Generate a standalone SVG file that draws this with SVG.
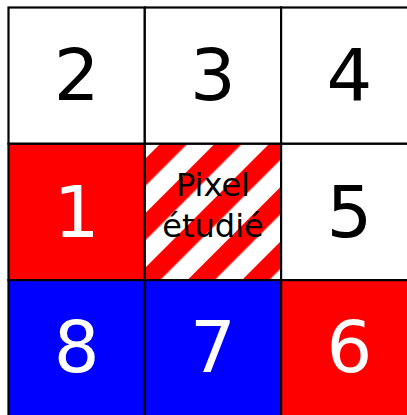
<svg xmlns="http://www.w3.org/2000/svg" width="407" height="415" viewBox="0 0 407 415">
<style>
.cell{stroke:#000;stroke-width:2.2}
.w{fill:#fff}
.r{fill:#ff0000}
.b{fill:#0000ff}
.num{font-family:"DejaVu Sans",Verdana,sans-serif;font-size:72px;text-anchor:middle}
.dk{fill:#000}
.lt{fill:#fff}
.lbl{font-family:"DejaVu Sans",Verdana,sans-serif;font-size:32px;text-anchor:middle;fill:#000}
</style>
<defs>
<pattern id="stripes" x="22.26" y="0" width="38.54" height="38.54" patternUnits="userSpaceOnUse" patternTransform="rotate(45)">
<rect width="38.54" height="38.54" fill="#fff"/>
<rect width="19.27" height="38.54" fill="#ff0000"/>
</pattern>
</defs>
<rect width="407" height="415" fill="#fff"/>
<g id="n2"><rect class="cell w" x="8.5" y="7.5" width="136.3" height="136.3"/><text class="num dk" x="76.6" y="100">2</text></g>
<g id="n3"><rect class="cell w" x="144.8" y="7.5" width="136.3" height="136.3"/><text class="num dk" x="213" y="100">3</text></g>
<g id="n4"><rect class="cell w" x="281.1" y="7.5" width="136.3" height="136.3"/><text class="num dk" x="349.3" y="100">4</text></g>
<g id="n1"><rect class="cell r" x="8.5" y="143.8" width="136.3" height="136.3"/><text class="num lt" x="76.6" y="236.5">1</text></g>
<g id="center"><rect class="cell" fill="url(#stripes)" x="144.8" y="143.8" width="136.3" height="136.3"/><text class="lbl" x="213" y="196">Pixel</text><text class="lbl" x="213" y="237">étudié</text></g>
<g id="n5"><rect class="cell w" x="281.1" y="143.8" width="136.3" height="136.3"/><text class="num dk" x="349.3" y="236.5">5</text></g>
<g id="n8"><rect class="cell b" x="8.5" y="280.1" width="136.3" height="136.3"/><text class="num lt" x="76.6" y="372">8</text></g>
<g id="n7"><rect class="cell b" x="144.8" y="280.1" width="136.3" height="136.3"/><text class="num lt" x="213" y="372">7</text></g>
<g id="n6"><rect class="cell r" x="281.1" y="280.1" width="136.3" height="136.3"/><text class="num lt" x="349.3" y="372">6</text></g>
<g id="connectors"></g>
</svg>
